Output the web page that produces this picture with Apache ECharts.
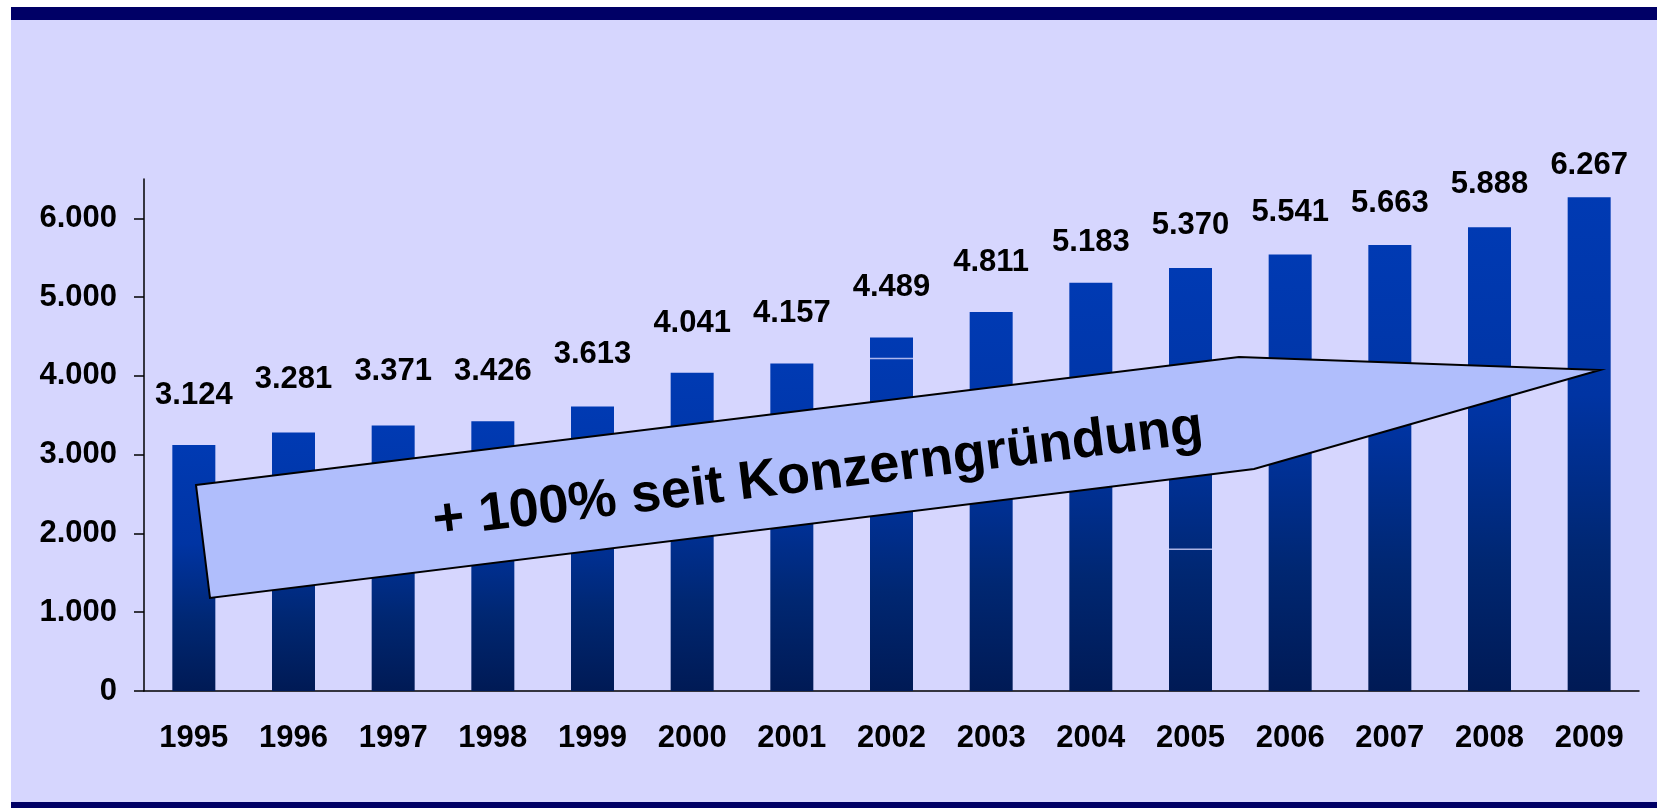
<!DOCTYPE html>
<html lang="de">
    <head>
        <meta charset="UTF-8" />
        <title>Konzernentwicklung 1995 - 2009</title>
        <style>
            * {
                box-sizing: border-box;
                margin: 0;
                padding: 0;
            }
            body {
                width: 1657px;
                height: 808px;
                background: #ffffff;
                overflow: hidden;
                position: relative;
            }
            .frame {
                position: absolute;
                left: 11px;
                top: 7px;
                right: 0;
                bottom: 0;
                background: #d6d6fe;
                border-top: 13px solid #000066;
                border-bottom: 6px solid #000066;
            }
            .container {
                position: absolute;
                left: 0;
                top: 0;
                width: 1657px;
                height: 808px;
            }
        </style>
    </head>
    <body>
        <div class="frame"></div>
        <div class="container" id="chart"></div>
        <script src="https://cdn.jsdelivr.net/npm/echarts@6/dist/echarts.min.js"></script>
        <script>
            // Jahre und Werte
            var years = ['1995', '1996', '1997', '1998', '1999', '2000', '2001', '2002',
                '2003', '2004', '2005', '2006', '2007', '2008', '2009']
            var values = [3124, 3281, 3371, 3426, 3613, 4041, 4157, 4489,
                4811, 5183, 5370, 5541, 5663, 5888, 6267]
            var yTicks = [0, 1000, 2000, 3000, 4000, 5000, 6000]
            // Abstand der Beschriftung über dem Balken (wie im Original versetzt)
            var labelGap = [34, 38, 39, 34, 36, 34, 35, 34, 34, 25, 27, 27, 26, 27, 16]
            // feine helle Linien in zwei Balken
            var seams = [['2002', 4220], ['2005', 1800]]
            var arrowText = '+ 100% seit Konzerngründung'

            var font = '"Liberation Sans", Arial, sans-serif'

            // 3124 -> "3.124"
            function fmt(v) {
                if (v === 0) return '0'
                var s = String(Math.round(v))
                return s.replace(/\B(?=(\d{3})+(?!\d))/g, '.')
            }

            var chart = echarts.init(document.getElementById('chart'))
            chart.setOption({
                animation: false,
                backgroundColor: 'transparent',
                grid: {
                    left: 144,
                    right: 18,
                    top: 179,
                    bottom: 117
                },
                xAxis: {
                    type: 'category',
                    data: years,
                    boundaryGap: true,
                    axisLine: { lineStyle: { color: '#000', width: 1.5 } },
                    axisTick: { length: 11, lineStyle: { color: '#000', width: 1.5 } },
                    axisLabel: {
                        color: '#000',
                        fontFamily: font,
                        fontWeight: 'bold',
                        fontSize: 31,
                        margin: 32
                    }
                },
                yAxis: {
                    type: 'value',
                    min: 0,
                    max: 6500,
                    interval: 1000,
                    splitLine: { show: false },
                    axisLine: { show: true, lineStyle: { color: '#000', width: 1.5 } },
                    axisTick: {
                        show: true,
                        length: 10,
                        customValues: yTicks,
                        lineStyle: { color: '#000', width: 1.5 }
                    },
                    axisLabel: {
                        color: '#000',
                        fontFamily: font,
                        fontWeight: 'bold',
                        fontSize: 31,
                        margin: 27,
                        customValues: yTicks,
                        formatter: fmt
                    }
                },
                series: [
                    {
                        type: 'bar',
                        barWidth: 43,
                        data: values.map(function (v, i) {
                            return {
                                value: v,
                                label: { distance: labelGap[i] }
                            }
                        }),
                        itemStyle: {
                            color: new echarts.graphic.LinearGradient(0, 0, 0, 1, [
                                { offset: 0, color: '#003ab3' },
                                { offset: 0.4, color: '#0034a3' },
                                { offset: 0.72, color: '#002772' },
                                { offset: 1, color: '#001a55' }
                            ])
                        },
                        label: {
                            show: true,
                            position: 'top',
                            color: '#000',
                            fontFamily: font,
                            fontWeight: 'bold',
                            fontSize: 31,
                            formatter: function (p) {
                                return fmt(p.value)
                            }
                        }
                    },
                    {
                        type: 'scatter',
                        symbol: 'rect',
                        symbolSize: [43, 1.5],
                        silent: true,
                        itemStyle: { color: '#d6d6fe' },
                        data: seams
                    }
                ],
                graphic: [
                    {
                        type: 'polygon',
                        z: 100,
                        shape: {
                            points: [[196, 485], [1239, 357], [1600, 370], [1254, 469], [210, 598]]
                        },
                        style: {
                            fill: '#b0befc',
                            stroke: '#000',
                            lineWidth: 2
                        }
                    },
                    {
                        type: 'text',
                        z: 101,
                        x: 818,
                        y: 475,
                        rotation: 7.0 * Math.PI / 180,
                        style: {
                            text: arrowText,
                            fill: '#000',
                            font: 'bold 54px ' + font,
                            align: 'center',
                            verticalAlign: 'middle'
                        }
                    }
                ]
            })
        </script>
    </body>
</html>
